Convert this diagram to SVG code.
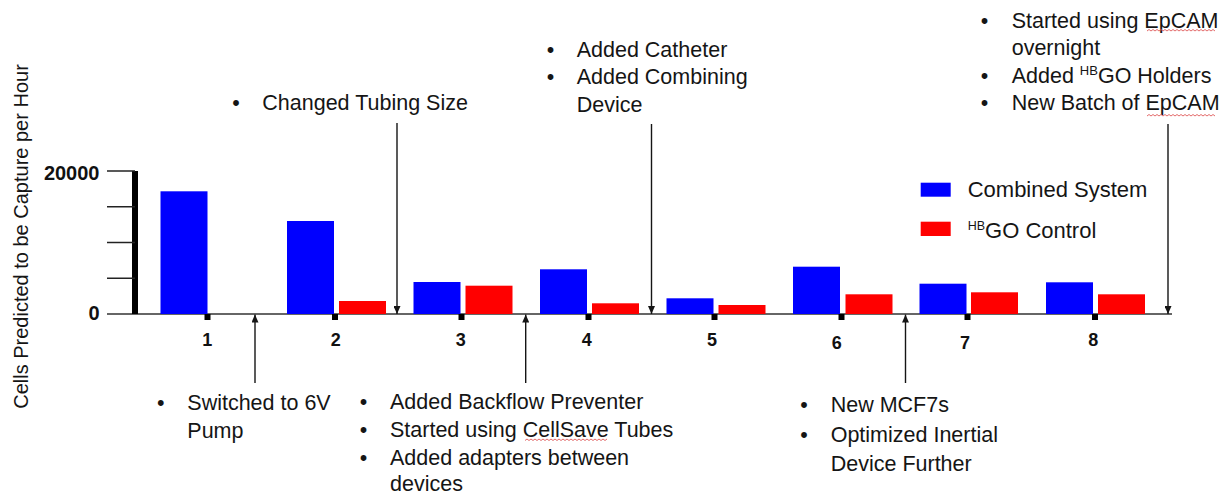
<svg xmlns="http://www.w3.org/2000/svg" width="1222" height="497" viewBox="0 0 1222 497">
  <style>
    .txt { font-family: "Liberation Sans", Arial, sans-serif; font-size: 21.5px; fill: #151515; }
    .bul { font-family: "Liberation Sans", Arial, sans-serif; font-size: 21.5px; fill: #151515; text-anchor: middle; }
    .num { font-family: "Liberation Sans", Arial, sans-serif; font-size: 18px; font-weight: bold; fill: #111; text-anchor: middle; }
    .ylab { font-family: "Liberation Sans", Arial, sans-serif; font-size: 20px; font-weight: bold; fill: #111; text-anchor: end; }
    .ytitle { font-family: "Liberation Sans", Arial, sans-serif; font-size: 20px; fill: #151515; text-anchor: middle; }
    .leg { font-family: "Liberation Sans", Arial, sans-serif; font-size: 22px; fill: #151515; }
    .blue { fill: #0000ff; }
    .red { fill: #ff0000; }
    .tick { fill: #000; }
    .conn { stroke: #151515; stroke-width: 1.4; fill: none; }
    .squig { stroke: #e05a5a; stroke-width: 0.9; fill: none; }
  </style>
  <defs>
    <marker id="ah" viewBox="0 0 8 7" refX="8" refY="3.5" markerWidth="8" markerHeight="7" markerUnits="userSpaceOnUse" orient="auto">
      <path d="M0,0 L8,3.5 L0,7 z" fill="#151515"/>
    </marker>
  </defs>

  <rect width="1222" height="497" fill="#ffffff"/>

  <!-- axes -->
  <g id="axes">
    <line x1="107" y1="314" x2="1172" y2="314" stroke="#333" stroke-width="1.5"/>
    <line x1="135" y1="171" x2="135" y2="314" stroke="#000" stroke-width="6"/>
    <g stroke="#222" stroke-width="1.5">
      <line x1="107" y1="171" x2="135" y2="171"/>
      <line x1="107" y1="206.75" x2="135" y2="206.75"/>
      <line x1="107" y1="242.5" x2="135" y2="242.5"/>
      <line x1="107" y1="278.25" x2="135" y2="278.25"/>
    </g>
    <text class="ylab" x="99.5" y="180">20000</text>
    <text class="ylab" x="99.5" y="319.5">0</text>
    <text class="ytitle" transform="translate(28,236.5) rotate(-90)">Cells Predicted to be Capture per Hour</text>
  </g>

  <!-- bars: blue = Combined System, red = HBGO Control -->
  <g id="bars">
    <rect class="blue" x="160.5" y="191.3" width="47" height="122.7"/>
    <rect class="blue" x="287" y="221" width="47" height="93"/>
    <rect class="red" x="339" y="301" width="47" height="13"/>
    <rect class="blue" x="413.5" y="282" width="47" height="32"/>
    <rect class="red" x="465.5" y="285.7" width="47" height="28.3"/>
    <rect class="blue" x="540" y="269.3" width="47" height="44.7"/>
    <rect class="red" x="592" y="303.3" width="47" height="10.7"/>
    <rect class="blue" x="666.5" y="298.3" width="47" height="15.7"/>
    <rect class="red" x="718.5" y="305" width="47" height="9"/>
    <rect class="blue" x="793" y="266.7" width="47" height="47.3"/>
    <rect class="red" x="845.5" y="294.3" width="47" height="19.7"/>
    <rect class="blue" x="919.5" y="283.7" width="47" height="30.3"/>
    <rect class="red" x="971" y="292.3" width="47" height="21.7"/>
    <rect class="blue" x="1046" y="282.3" width="47" height="31.7"/>
    <rect class="red" x="1098" y="294.3" width="47" height="19.7"/>
  </g>

  <!-- category ticks and labels -->
  <g id="categories">
    <rect class="tick" x="204.5" y="314" width="6" height="6"/>
    <rect class="tick" x="332" y="314" width="6" height="6"/>
    <rect class="tick" x="458.5" y="314" width="6" height="6"/>
    <rect class="tick" x="585.5" y="314" width="6" height="6"/>
    <rect class="tick" x="711.5" y="314" width="6" height="6"/>
    <rect class="tick" x="838.5" y="314" width="6" height="6"/>
    <rect class="tick" x="964.5" y="314" width="6" height="6"/>
    <rect class="tick" x="1092" y="314" width="6" height="6"/>
    <text class="num" x="207.3" y="345.5">1</text>
    <text class="num" x="335.7" y="345.5">2</text>
    <text class="num" x="460.7" y="345.5">3</text>
    <text class="num" x="586.7" y="345.5">4</text>
    <text class="num" x="712" y="345.5">5</text>
    <text class="num" x="836.7" y="348.5">6</text>
    <text class="num" x="965" y="348.5">7</text>
    <text class="num" x="1093.3" y="345.5">8</text>
  </g>

  <!-- legend -->
  <g id="legend">
    <rect class="blue" x="920.7" y="182.7" width="30" height="14"/>
    <text class="leg" x="967.7" y="196.7">Combined System</text>
    <rect class="red" x="920.7" y="221.7" width="30" height="14.3"/>
    <text class="leg" x="967.7" y="238.3"><tspan font-size="12.5" dy="-8.3">HB</tspan><tspan dy="8.3">GO Control</tspan></text>
  </g>

  <!-- connectors -->
  <g id="connectors">
    <line class="conn" x1="397" y1="123" x2="397" y2="314" marker-end="url(#ah)"/>
    <line class="conn" x1="651.5" y1="124" x2="651.5" y2="314" marker-end="url(#ah)"/>
    <line class="conn" x1="1168" y1="124" x2="1168" y2="314" marker-end="url(#ah)"/>
    <line class="conn" x1="255" y1="383" x2="255" y2="314.5" marker-end="url(#ah)"/>
    <line class="conn" x1="525.7" y1="383" x2="525.7" y2="314.5" marker-end="url(#ah)"/>
    <line class="conn" x1="905.5" y1="383" x2="905.5" y2="314.5" marker-end="url(#ah)"/>
  </g>

  <!-- annotation notes -->
  <g id="note-tubing">
    <text class="bul" x="236" y="110">•</text>
    <text class="txt" x="262.3" y="110">Changed Tubing Size</text>
  </g>

  <g id="note-catheter">
    <text class="bul" x="550.5" y="56.7">•</text>
    <text class="txt" x="576.7" y="56.7">Added Catheter</text>
    <text class="bul" x="550.5" y="84.3">•</text>
    <text class="txt" x="576.7" y="84.3">Added Combining</text>
    <text class="txt" x="576.7" y="111.7">Device</text>
  </g>

  <g id="note-epcam">
    <text class="bul" x="984.5" y="28.3">•</text>
    <text class="txt" x="1011.7" y="28.3">Started using EpCAM</text>
    <text class="txt" x="1011.7" y="55">overnight</text>
    <text class="bul" x="984.5" y="82.7">•</text>
    <text class="txt" x="1011.7" y="82.7">Added <tspan font-size="13" dy="-7.5">HB</tspan><tspan dy="7.5">GO Holders</tspan></text>
    <text class="bul" x="984.5" y="110">•</text>
    <text class="txt" x="1011.7" y="110">New Batch of EpCAM</text>
    <path class="squig" d="M1147,31 l2,-1.5 l2,1.5 l2,-1.5 l2,1.5 l2,-1.5 l2,1.5 l2,-1.5 l2,1.5 l2,-1.5 l2,1.5 l2,-1.5 l2,1.5 l2,-1.5 l2,1.5 l2,-1.5 l2,1.5 l2,-1.5 l2,1.5 l2,-1.5 l2,1.5 l2,-1.5 l2,1.5 l2,-1.5 l2,1.5 l2,-1.5 l2,1.5 l2,-1.5 l2,1.5 l2,-1.5 l2,1.5 l2,-1.5 l2,1.5 l2,-1.5 l2,1.5"/>
    <path class="squig" d="M1147,116 l2,-1.5 l2,1.5 l2,-1.5 l2,1.5 l2,-1.5 l2,1.5 l2,-1.5 l2,1.5 l2,-1.5 l2,1.5 l2,-1.5 l2,1.5 l2,-1.5 l2,1.5 l2,-1.5 l2,1.5 l2,-1.5 l2,1.5 l2,-1.5 l2,1.5 l2,-1.5 l2,1.5 l2,-1.5 l2,1.5 l2,-1.5 l2,1.5 l2,-1.5 l2,1.5 l2,-1.5 l2,1.5 l2,-1.5 l2,1.5 l2,-1.5 l2,1.5"/>
  </g>

  <g id="note-pump">
    <text class="bul" x="160.7" y="410">•</text>
    <text class="txt" x="187.3" y="410">Switched to 6V</text>
    <text class="txt" x="187.3" y="438.3">Pump</text>
  </g>

  <g id="note-backflow">
    <text class="bul" x="363.5" y="409">•</text>
    <text class="txt" x="390" y="409">Added Backflow Preventer</text>
    <text class="bul" x="363.5" y="437">•</text>
    <text class="txt" x="390" y="437">Started using CellSave Tubes</text>
    <text class="bul" x="363.5" y="465">•</text>
    <text class="txt" x="390" y="465">Added adapters between</text>
    <text class="txt" x="390" y="491">devices</text>
    <path class="squig" d="M525,440.5 l2,-1.5 l2,1.5 l2,-1.5 l2,1.5 l2,-1.5 l2,1.5 l2,-1.5 l2,1.5 l2,-1.5 l2,1.5 l2,-1.5 l2,1.5 l2,-1.5 l2,1.5 l2,-1.5 l2,1.5 l2,-1.5 l2,1.5 l2,-1.5 l2,1.5 l2,-1.5 l2,1.5 l2,-1.5 l2,1.5 l2,-1.5 l2,1.5 l2,-1.5 l2,1.5 l2,-1.5 l2,1.5 l2,-1.5 l2,1.5 l2,-1.5 l2,1.5 l2,-1.5 l2,1.5 l2,-1.5 l2,1.5 l2,-1.5 l2,1.5 l2,-1.5"/>
  </g>

  <g id="note-mcf7">
    <text class="bul" x="804" y="412.3">•</text>
    <text class="txt" x="830.7" y="412.3">New MCF7s</text>
    <text class="bul" x="804" y="441.7">•</text>
    <text class="txt" x="830.7" y="441.7">Optimized Inertial</text>
    <text class="txt" x="830.7" y="470.7">Device Further</text>
  </g>
</svg>
